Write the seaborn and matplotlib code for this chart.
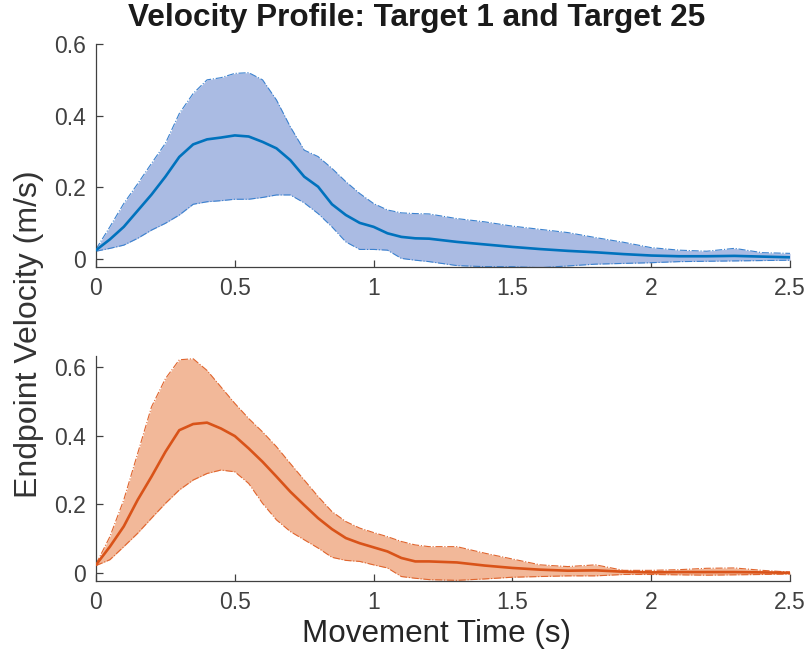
import numpy as np
import pandas as pd
import matplotlib
matplotlib.use("Agg")
import matplotlib.pyplot as plt
import seaborn as sns

# Movement time samples (s)
time_s = [0.00, 0.05, 0.10, 0.15, 0.20, 0.25, 0.30, 0.35, 0.40, 0.45, 0.50,
          0.55, 0.60, 0.65, 0.70, 0.75, 0.80, 0.85, 0.90, 0.95, 1.00, 1.05,
          1.10, 1.15, 1.20, 1.30, 1.40, 1.50, 1.60, 1.70, 1.80, 1.90, 2.00,
          2.10, 2.20, 2.30, 2.40, 2.50]

# Target 1: mean endpoint velocity and band limits (m/s)
t1_mean = [0.025, 0.055, 0.090, 0.135, 0.180, 0.230, 0.285, 0.320, 0.334, 0.339, 0.345,
           0.342, 0.327, 0.309, 0.276, 0.230, 0.202, 0.153, 0.123, 0.101, 0.090, 0.072,
           0.062, 0.058, 0.057, 0.048, 0.041, 0.034, 0.028, 0.023, 0.019, 0.014, 0.010,
           0.008, 0.008, 0.009, 0.007, 0.005]
t1_upper = [0.028, 0.090, 0.155, 0.210, 0.267, 0.323, 0.406, 0.462, 0.500, 0.506, 0.518,
            0.520, 0.500, 0.444, 0.369, 0.304, 0.286, 0.253, 0.216, 0.183, 0.155, 0.137,
            0.129, 0.127, 0.126, 0.113, 0.104, 0.092, 0.083, 0.074, 0.060, 0.047, 0.032,
            0.025, 0.022, 0.030, 0.018, 0.016]
t1_lower = [0.022, 0.030, 0.039, 0.058, 0.081, 0.100, 0.123, 0.153, 0.160, 0.163, 0.167,
            0.167, 0.172, 0.179, 0.179, 0.157, 0.127, 0.090, 0.048, 0.027, 0.027, 0.025,
            0.002, -0.003, -0.007, -0.018, -0.021, -0.021, -0.024, -0.019, -0.014, -0.012, -0.010,
            -0.007, -0.006, -0.005, -0.004, -0.003]

# Target 25: mean endpoint velocity and band limits (m/s)
t25_mean = [0.024, 0.077, 0.136, 0.213, 0.281, 0.353, 0.416, 0.434, 0.438, 0.421, 0.399,
            0.363, 0.324, 0.281, 0.237, 0.198, 0.160, 0.128, 0.102, 0.087, 0.075, 0.063,
            0.044, 0.034, 0.034, 0.031, 0.022, 0.015, 0.010, 0.007, 0.008, 0.004, 0.002,
            0.003, 0.003, 0.003, 0.002, 0.001]
t25_upper = [0.026, 0.106, 0.213, 0.348, 0.484, 0.566, 0.621, 0.624, 0.590, 0.542, 0.494,
             0.450, 0.411, 0.368, 0.319, 0.271, 0.223, 0.179, 0.150, 0.131, 0.118, 0.106,
             0.092, 0.082, 0.077, 0.077, 0.058, 0.041, 0.024, 0.019, 0.024, 0.008, 0.008,
             0.010, 0.014, 0.015, 0.008, 0.003]
t25_lower = [0.022, 0.039, 0.077, 0.116, 0.160, 0.203, 0.242, 0.271, 0.290, 0.300, 0.295,
             0.261, 0.203, 0.155, 0.121, 0.097, 0.073, 0.046, 0.037, 0.034, 0.024, 0.015,
             -0.010, -0.015, -0.019, -0.021, -0.017, -0.012, -0.010, -0.008, -0.008, -0.004, -0.004,
             -0.005, -0.006, -0.005, -0.004, -0.003]

x_ticks = [0, 0.5, 1, 1.5, 2, 2.5]
x_tick_labels = ["0", "0.5", "1", "1.5", "2", "2.5"]
y_ticks = [0, 0.2, 0.4, 0.6]
y_tick_labels = ["0", "0.2", "0.4", "0.6"]

sns.set_style("ticks")
plt.rcParams["font.family"] = ["Liberation Sans", "DejaVu Sans"]

axis_grey = "#404040"
text_dark = "#262626"

fig = plt.figure(figsize=(8.06, 6.56), dpi=100)
ax_top = fig.add_axes([96 / 806, 1 - 267 / 656, 694 / 806, 223 / 656])
ax_bot = fig.add_axes([96 / 806, 1 - 581 / 656, 694 / 806, 225 / 656])

panels = [
    (ax_top, t1_mean, t1_upper, t1_lower, "#0072BD", "#AABBE3", "#3C82CF", (-0.022, 0.6)),
    (ax_bot, t25_mean, t25_upper, t25_lower, "#D95319", "#F2B899", "#E0652E", (-0.023, 0.632)),
]

for ax, mean, upper, lower, line_col, fill_col, edge_col, ylim in panels:
    df = pd.DataFrame({"time": time_s, "velocity": mean})
    ax.fill_between(time_s, lower, upper, color=fill_col, linewidth=0, zorder=1)
    ax.plot(time_s, upper, linestyle="-.", color=edge_col, linewidth=0.8, zorder=2)
    ax.plot(time_s, lower, linestyle="-.", color=edge_col, linewidth=0.8, zorder=2)
    sns.lineplot(data=df, x="time", y="velocity", ax=ax, color=line_col,
                 linewidth=1.9, zorder=3)
    ax.set_xlim(0, 2.5)
    ax.set_ylim(*ylim)
    ax.set_xticks(x_ticks)
    ax.set_xticklabels(x_tick_labels)
    ax.set_yticks(y_ticks)
    ax.set_yticklabels(y_tick_labels)
    ax.set_xlabel("")
    ax.set_ylabel("")
    ax.tick_params(direction="in", length=5, width=0.9, colors=axis_grey,
                   labelsize=16.5, pad=7)
    for side in ("top", "right"):
        ax.spines[side].set_visible(False)
    for side in ("left", "bottom"):
        ax.spines[side].set_color(axis_grey)
        ax.spines[side].set_linewidth(0.9)

fig.text(417 / 806, 1 - 18 / 656, "Velocity Profile: Target 1 and Target 25",
         ha="center", va="center", fontsize=22.7, fontweight="bold", color="#1a1a1a")
fig.text(436 / 806, 1 - 634 / 656, "Movement Time (s)",
         ha="center", va="center", fontsize=22.6, color=text_dark)
fig.text(29 / 806, 1 - 334 / 656, "Endpoint Velocity (m/s)",
         ha="center", va="center", rotation=90, fontsize=23, color="#333333")

fig.savefig("out.png", dpi=100)
